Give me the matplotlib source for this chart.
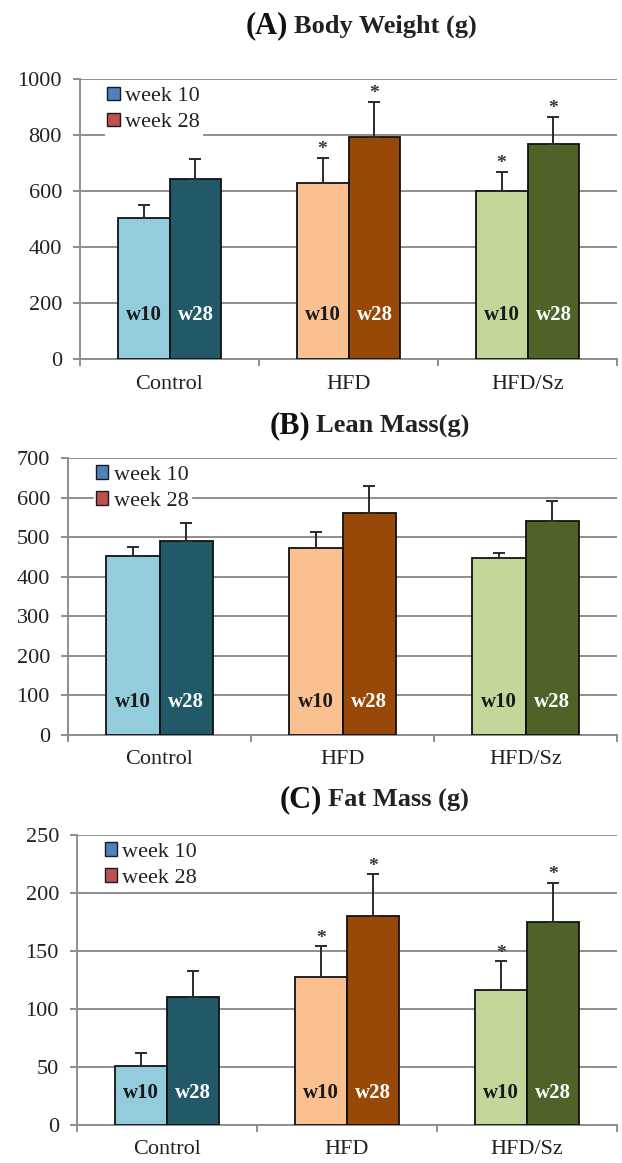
import numpy as np
import matplotlib.pyplot as plt
from matplotlib.patches import Patch

plt.rcParams['font.family'] = ['Liberation Serif', 'DejaVu Serif']

groups = ['Control', 'HFD', 'HFD/Sz']
light_colors = ['#93cddd', '#fac090', '#c4d79b']
dark_colors = ['#215968', '#984807', '#4f6228']

# body weight
bw_w10 = [505, 630, 600]
bw_w10_err = [45, 90, 70]
bw_w28 = [645, 795, 770]
bw_w28_err = [70, 125, 95]
bw_star10 = [False, True, True]
bw_star28 = [False, True, True]

# lean mass
lm_w10 = [452, 473, 447]
lm_w10_err = [22, 40, 13]
lm_w28 = [490, 560, 540]
lm_w28_err = [45, 68, 52]
lm_star10 = [False, False, False]
lm_star28 = [False, False, False]

# fat mass
fm_w10 = [51, 128, 116]
fm_w10_err = [11, 26, 25]
fm_w28 = [110, 180, 175]
fm_w28_err = [23, 36, 34]
fm_star10 = [False, True, True]
fm_star28 = [False, True, True]

W, H = 622, 1163

# (tag, title, data..., ymax, step, label height, axes box in px (left, top, right, bottom), title x/baseline px)
panels = [
    ('(A)', 'Body Weight (g)', bw_w10, bw_w10_err, bw_w28, bw_w28_err, bw_star10, bw_star28,
     1000, 200, 160, (80, 79.3, 617, 359.3), (291, 33)),
    ('(B)', 'Lean Mass(g)', lm_w10, lm_w10_err, lm_w28, lm_w28_err, lm_star10, lm_star28,
     700, 100, 83, (68, 458, 617, 735), (313, 433)),
    ('(C)', 'Fat Mass (g)', fm_w10, fm_w10_err, fm_w28, fm_w28_err, fm_star10, fm_star28,
     250, 50, 28, (77, 835, 617, 1125), (325, 807)),
]

fig = plt.figure(figsize=(W / 100, H / 100), dpi=100)
x = np.arange(len(groups))
w = 0.29
grid_col = '#8e8e8e'

for tag, title, v10, e10, v28, e28, s10, s28, ymax, step, label_y, box, tpos in panels:
    l, t, r, b = box
    ax = fig.add_axes([l / W, 1 - b / H, (r - l) / W, (b - t) / H])
    ax.set_xlim(-0.5, 2.5)
    ax.set_ylim(0, ymax)
    ax.set_yticks(np.arange(0, ymax + 1, step))
    ax.yaxis.grid(True, color=grid_col, lw=1.4)
    ax.set_axisbelow(True)
    for s in ['top', 'right']:
        ax.spines[s].set_visible(False)
    for s in ['left', 'bottom']:
        ax.spines[s].set_color(grid_col)
        ax.spines[s].set_linewidth(1.4)

    ax.bar(x - w / 2, v10, w, color=light_colors, edgecolor='#111111', lw=1.3, zorder=3)
    ax.bar(x + w / 2, v28, w, color=dark_colors, edgecolor='#111111', lw=1.3, zorder=3)
    ax.errorbar(x - w / 2, v10, yerr=[np.zeros(3), e10], fmt='none', ecolor='#2a2a2a',
                elinewidth=1.4, capsize=4, capthick=1.4, zorder=4)
    ax.errorbar(x + w / 2, v28, yerr=[np.zeros(3), e28], fmt='none', ecolor='#2a2a2a',
                elinewidth=1.4, capsize=4, capthick=1.4, zorder=4)

    for i in range(3):
        if s10[i]:
            ax.annotate('*', (x[i] - w / 2, v10[i] + e10[i]), xytext=(0, 6),
                        textcoords='offset points', ha='center', va='center',
                        fontsize=14, fontweight='bold', color='#333333')
        if s28[i]:
            ax.annotate('*', (x[i] + w / 2, v28[i] + e28[i]), xytext=(0, 6),
                        textcoords='offset points', ha='center', va='center',
                        fontsize=14, fontweight='bold', color='#333333')
        ax.text(x[i] - w / 2, label_y, 'w10', ha='center', va='center', fontsize=15,
                fontweight='bold', color='#1a1a1a', zorder=5)
        ax.text(x[i] + w / 2, label_y, 'w28', ha='center', va='center', fontsize=15,
                fontweight='bold', color='white', zorder=5)

    ax.set_xticks(x)
    ax.set_xticklabels(groups, fontsize=16)
    ax.set_xticks([-0.5, 0.5, 1.5, 2.5], minor=True)
    ax.tick_params(axis='x', which='major', length=0, pad=11, colors='#222222')
    ax.tick_params(axis='x', which='minor', length=5, color=grid_col, width=1.4)
    ax.tick_params(axis='y', length=5, color=grid_col, width=1.4, labelsize=16, pad=8,
                   labelcolor='#222222')

    handles = [Patch(facecolor='#4f81bd', edgecolor='#1a1a1a', label='week 10'),
               Patch(facecolor='#c0504d', edgecolor='#1a1a1a', label='week 28')]
    leg = ax.legend(handles=handles, loc='upper left',
                    bbox_to_anchor=(0.047, 1 - 5 / (b - t)),
                    frameon=True, fontsize=16, handlelength=0.55, handleheight=0.55,
                    handletextpad=0.25, labelspacing=0.3, borderpad=0.1, borderaxespad=0,
                    fancybox=False)
    for txt in leg.get_texts():
        txt.set_color('#222222')
    leg.get_frame().set_edgecolor('white')
    leg.get_frame().set_facecolor('white')
    leg.get_frame().set_alpha(1)

    tx, ty = tpos
    fig.text((tx - 3) / W, 1 - ty / H, tag, ha='right', va='baseline', fontsize=22,
             fontweight='bold', color='#111111')
    fig.text((tx + 3) / W, 1 - ty / H, title, ha='left', va='baseline', fontsize=19,
             fontweight='bold', color='#222222')

fig.savefig('out.png', dpi=100)
